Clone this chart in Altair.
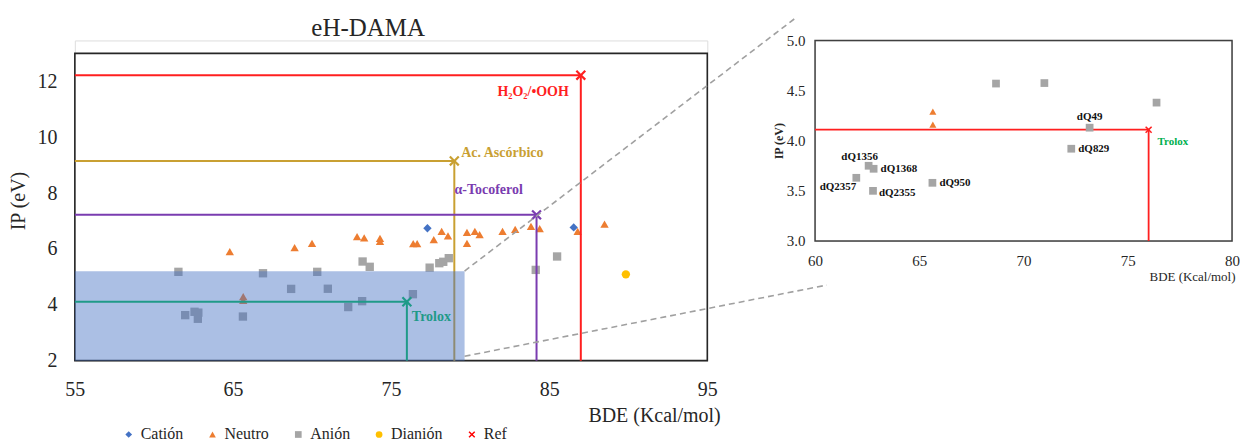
import altair as alt
import pandas as pd

FONT = "Liberation Serif"
TXT = "#262626"

# ---------------- data ----------------
cation_bde = [77.3, 86.55]
cation_ip = [6.74, 6.77]

neutro_bde = [64.8, 65.65, 65.65, 68.9, 70.0, 72.85, 73.3, 74.3, 74.3, 76.4, 76.65,
              77.7, 78.2, 78.6, 79.8, 79.8, 80.3, 80.6, 82.05, 82.85, 83.85, 84.4, 86.8, 88.5]
neutro_ip = [5.9, 4.29, 4.16, 6.05, 6.2, 6.44, 6.4, 6.38, 6.27, 6.19, 6.19,
             6.33, 6.63, 6.47, 6.59, 6.2, 6.63, 6.51, 6.63, 6.7, 6.81, 6.73, 6.63, 6.89]

anion_bde = [61.55, 61.98, 62.57, 62.81, 62.78, 65.63, 66.9, 68.68, 70.33, 71.0, 72.29,
             73.17, 73.2, 73.65, 76.38, 77.44, 78.05, 78.3, 78.65, 84.15, 85.5]
anion_ip = [5.18, 3.63, 3.75, 3.72, 3.50, 3.58, 5.13, 4.57, 5.18, 4.575, 3.92,
            4.13, 5.55, 5.36, 4.38, 5.33, 5.49, 5.54, 5.67, 5.25, 5.73]
anion_label = ["", "dQ2357", "dQ1356", "dQ1368", "dQ2355", "dQ950", "", "", "", "", "dQ829",
               "dQ49", "", "", "", "", "", "", "", "", ""]

dianion_bde = [89.85]
dianion_ip = [5.09]

ref_names = ["H₂O₂/•OOH", "Ac. Ascórbico", "α-Tocoferol", "Trolox"]
ref_bde = [87.0, 79.0, 84.2, 76.0]
ref_ip = [12.22, 9.15, 7.22, 4.11]
ref_colors = ["#FF1F1F", "#C9A032", "#7A3CB0", "#1F9A88"]

legend_types = ["Catión", "Neutro", "Anión", "Dianión", "Ref"]
legend_colors = ["#4472C4", "#ED7D31", "#A5A5A5", "#FFC000", "#FF0000"]

left_x_range = [55, 95]
left_y_range = [2, 13]
left_x_ticks = [55, 65, 75, 85, 95]
left_y_ticks = [2, 4, 6, 8, 10, 12]

zoom_x_range = [60, 80]
zoom_y_range = [3, 5]
zoom_x_ticks = [60, 65, 70, 75, 80]
zoom_y_ticks = [3.0, 3.5, 4.0, 4.5, 5.0]

# highlighted region in the main panel
zoom_box_bde = [55.0, 79.65]
zoom_box_ip = [2.0, 5.2]

# dashed connector lines (in zoom-panel coordinates)
conn_x1 = [43.19, 43.19]
conn_y1 = [2.70, 1.85]
conn_x2 = [59.04, 60.57]
conn_y2 = [5.22, 2.56]

# ---------------- styles ----------------
XPATH = "M-1,-0.7L-0.7,-1L0,-0.3L0.7,-1L1,-0.7L0.3,0L1,0.7L0.7,1L0,0.3L-0.7,1L-1,0.7L-0.3,0Z"
legend_shapes = ["diamond", "triangle-up", "square", "circle", XPATH]
ref_text_style = [("right", -12, 17), ("left", 7, -8), ("center", -48, -25), ("left", 5, 15)]
zoom_label_style = {
    "dQ49": ("center", 0, -11), "dQ829": ("left", 7, 0), "dQ1356": ("center", -9, -9),
    "dQ1368": ("left", 7, 0), "dQ2357": ("right", 0, 9), "dQ2355": ("left", 6, 2),
    "dQ950": ("left", 7, 0),
}

points = pd.DataFrame({
    "bde": cation_bde + neutro_bde + anion_bde + dianion_bde,
    "ip": cation_ip + neutro_ip + anion_ip + dianion_ip,
    "tipo": ["Catión"] * len(cation_bde) + ["Neutro"] * len(neutro_bde)
            + ["Anión"] * len(anion_bde) + ["Dianión"] * len(dianion_bde),
    "label": [""] * len(cation_bde) + [""] * len(neutro_bde) + anion_label + [""] * len(dianion_bde),
})

# ---------------- left (main) panel ----------------
LW, LH = 634, 321
xs_left = alt.Scale(domain=left_x_range, nice=False, zero=False)
ys_left = alt.Scale(domain=[left_y_range[0], 13.464], nice=False, zero=False)
ax_lx = alt.Axis(values=left_x_ticks, grid=False, ticks=False, domain=False, labelFlush=False,
                 labelFont=FONT, labelFontSize=20, labelColor=TXT, labelPadding=19,
                 title="BDE (Kcal/mol)", titleFont=FONT, titleFontSize=20, titleFontWeight="normal",
                 titleColor=TXT, titleAlign="right", titleX=647, titleY=61, titleBaseline="alphabetic")
ax_ly = alt.Axis(values=left_y_ticks, grid=False, ticks=False, domain=False, labelFlush=False,
                 labelFont=FONT, labelFontSize=20, labelColor=TXT, labelPadding=18,
                 title="IP (eV)", titleFont=FONT, titleFontSize=20, titleFontWeight="normal",
                 titleColor=TXT, titlePadding=8)


def LX(f):
    return alt.X(f, type="quantitative", scale=xs_left, axis=ax_lx)


def LY(f):
    return alt.Y(f, type="quantitative", scale=ys_left, axis=ax_ly)


frame_left_df = pd.DataFrame({"x": [left_x_range[0]], "x2": [left_x_range[1]],
                              "y": [left_y_range[0]], "y2": [left_y_range[1]]})
frame_left = alt.Chart(frame_left_df).mark_rect(fill=None, stroke=TXT, strokeWidth=1.6).encode(
    x=LX("x"), x2="x2:Q", y=LY("y"), y2="y2:Q")

leg = alt.Legend(title=None, orient="none", legendX=46, legendY=387, direction="horizontal",
                 columns=5, columnPadding=21, symbolSize=45, labelFont=FONT, labelFontSize=16,
                 labelColor=TXT, labelOffset=4, symbolStrokeWidth=0)
pts_left = alt.Chart(points).mark_point(filled=True, size=70, opacity=1).encode(
    x=LX("bde"), y=LY("ip"),
    color=alt.Color("tipo:N", scale=alt.Scale(domain=legend_types, range=legend_colors), legend=leg),
    shape=alt.Shape("tipo:N", scale=alt.Scale(domain=legend_types, range=legend_shapes), legend=leg),
)

box_df = pd.DataFrame({"x": [zoom_box_bde[0]], "x2": [zoom_box_bde[1]],
                       "y": [zoom_box_ip[0]], "y2": [zoom_box_ip[1]]})
box = alt.Chart(box_df).mark_rect(color="#4472C4", opacity=0.45).encode(
    x=LX("x"), x2="x2:Q", y=LY("y"), y2="y2:Q")


def ref_layers(i):
    df = pd.DataFrame({"bde": [ref_bde[i]], "ip": [ref_ip[i]], "x0": [left_x_range[0]],
                       "y0": [left_y_range[0]], "name": [ref_names[i]]})
    c = ref_colors[i]
    base = alt.Chart(df)
    h = base.mark_rule(color=c, strokeWidth=2).encode(x=LX("x0"), x2="bde:Q", y=LY("ip"))
    v = base.mark_rule(color=c, strokeWidth=2).encode(x=LX("bde"), y=LY("y0"), y2="ip:Q")
    m = base.mark_point(shape=XPATH, filled=True, size=110, color=c, opacity=1).encode(
        x=LX("bde"), y=LY("ip"))
    align, dx, dy = ref_text_style[i]
    t = base.mark_text(align=align, dx=dx, dy=dy, baseline="middle", font=FONT, fontSize=14,
                       fontWeight="bold", color=c).encode(x=LX("bde"), y=LY("ip"), text="name:N")
    return [h, v, m, t]


under = []
for i in range(3):
    under += ref_layers(i)
over = ref_layers(3)

left = alt.layer(frame_left, pts_left, *under, box, *over).properties(
    width=LW, height=LH,
    title=alt.TitleParams("eH-DAMA", font=FONT, fontSize=25, fontWeight="normal", color=TXT,
                          anchor="middle", frame="group", dx=-23, offset=-21, baseline="alphabetic"),
)

# ---------------- right (zoom) panel ----------------
RW, RH = 418, 201
xs_r = alt.Scale(domain=zoom_x_range, nice=False, zero=False)
ys_r = alt.Scale(domain=zoom_y_range, nice=False, zero=False)
ax_rx = alt.Axis(values=zoom_x_ticks, grid=False, ticks=False, domain=False, labelFlush=False,
                 labelFont=FONT, labelFontSize=15, labelColor=TXT, labelPadding=13,
                 title="BDE (Kcal/mol)", titleFont=FONT, titleFontSize=13, titleFontWeight="normal",
                 titleColor=TXT, titleAlign="right", titleX=421, titleY=40, titleBaseline="alphabetic")
ax_ry = alt.Axis(values=zoom_y_ticks, format=".1f", grid=False, ticks=False, domain=False,
                 labelFlush=False, labelFont=FONT, labelFontSize=15, labelColor=TXT, labelPadding=10,
                 title="IP (eV)", titleFont=FONT, titleFontSize=12, titleFontWeight="bold",
                 titleColor=TXT, titlePadding=1)


def RX(f):
    return alt.X(f, type="quantitative", scale=xs_r, axis=ax_rx)


def RY(f):
    return alt.Y(f, type="quantitative", scale=ys_r, axis=ax_ry)


frame_r_df = pd.DataFrame({"x": [zoom_x_range[0]], "x2": [zoom_x_range[1]],
                           "y": [zoom_y_range[0]], "y2": [zoom_y_range[1]]})
frame_r = alt.Chart(frame_r_df).mark_rect(fill=None, stroke="#404040", strokeWidth=1.5).encode(
    x=RX("x"), x2="x2:Q", y=RY("y"), y2="y2:Q")

conn_df = pd.DataFrame({"x": conn_x1, "y": conn_y1, "x2": conn_x2, "y2": conn_y2})
conn = alt.Chart(conn_df).mark_rule(color="#A0A0A0", strokeWidth=1.6, strokeDash=[6, 4]).encode(
    x=RX("x"), y=RY("y"), x2="x2:Q", y2="y2:Q")

in_zoom = ((alt.datum.bde >= zoom_x_range[0]) & (alt.datum.bde <= zoom_x_range[1])
           & (alt.datum.ip >= zoom_y_range[0]) & (alt.datum.ip <= zoom_y_range[1]))
zbase = alt.Chart(points).transform_filter(in_zoom)
z_sq = zbase.transform_filter(alt.datum.tipo == "Anión").mark_point(
    shape="square", filled=True, size=60, color="#A5A5A5", opacity=1).encode(x=RX("bde"), y=RY("ip"))
z_tri = zbase.transform_filter(alt.datum.tipo == "Neutro").mark_point(
    shape="triangle-up", filled=True, size=50, color="#ED7D31", opacity=1).encode(x=RX("bde"), y=RY("ip"))

z_labels = []
for name, (align, dx, dy) in zoom_label_style.items():
    z_labels.append(
        zbase.transform_filter(alt.datum.label == name).mark_text(
            align=align, dx=dx, dy=dy, baseline="middle", font=FONT, fontSize=11,
            fontWeight="bold", color="#111111").encode(x=RX("bde"), y=RY("ip"), text="label:N"))

tr_df = pd.DataFrame({"bde": [ref_bde[3]], "ip": [ref_ip[3]], "x0": [zoom_x_range[0]],
                      "y0": [zoom_y_range[0]], "name": [ref_names[3]]})
trb = alt.Chart(tr_df)
tr_h = trb.mark_rule(color="#FF1F1F", strokeWidth=1.8).encode(x=RX("x0"), x2="bde:Q", y=RY("ip"))
tr_v = trb.mark_rule(color="#FF1F1F", strokeWidth=1.8).encode(x=RX("bde"), y=RY("y0"), y2="ip:Q")
tr_m = trb.mark_point(shape=XPATH, filled=True, size=50, color="#FF1F1F", opacity=1).encode(
    x=RX("bde"), y=RY("ip"))
tr_t = trb.mark_text(align="left", dx=9, dy=12, baseline="middle", font=FONT, fontSize=11,
                     fontWeight="bold", color="#00B050").encode(x=RX("bde"), y=RY("ip"), text="name:N")

right = alt.layer(frame_r, conn, tr_h, tr_v, z_sq, z_tri, *z_labels, tr_m, tr_t).properties(
    width=RW, height=RH)

chart = alt.hconcat(left, right, spacing=108, bounds="flush").resolve_scale(
    color="independent", shape="independent").resolve_legend(
    color="independent", shape="independent").properties(
    padding={"left": 0, "top": 7, "right": 0, "bottom": 0}).configure_view(
    stroke=None).configure_legend(labelFont=FONT, labelFontSize=16, labelColor=TXT).configure(
    font=FONT, background="white")

chart.save("out.html", embed_options={"renderer": "svg", "actions": False})
